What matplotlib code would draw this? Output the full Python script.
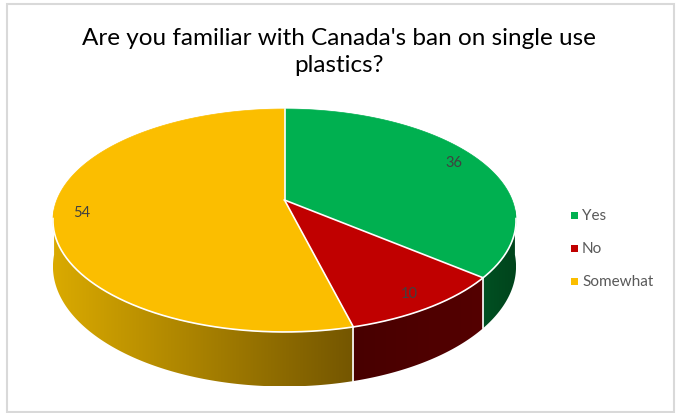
import numpy as np
import matplotlib.pyplot as plt
from matplotlib.patches import Polygon, Rectangle

# survey answers
labels = ['Yes', 'No', 'Somewhat']
values = [36, 10, 54]
top_colors = ['#00B050', '#C00000', '#FBBE00']
# side wall shading, left end -> right end of each slice
side_left = [(0, 80, 34), (72, 0, 0), (218, 170, 0)]
side_right = [(0, 68, 28), (84, 0, 0), (116, 86, 0)]

title = "Are you familiar with Canada's ban on single use\nplastics?"

W, H = 680, 414
fig = plt.figure(figsize=(W / 100, H / 100), dpi=100)
ax = fig.add_axes([0, 0, 1, 1])
ax.axis('off')

# perspective projection of the unit disc (angles clockwise from 12 o'clock)
cx, cy = 284.5, 201.0
A, B, C, k = 227.6, 107.7, 44.5, 0.1838


def proj(theta, r=1.0, z=0.0):
    t = np.radians(theta)
    u = r * np.sin(t)
    v = r * np.cos(t)
    d = 1 + k * v
    return cx + A * u / d, cy - B * v / d + C * z / d


total = sum(values)
starts = np.cumsum([0] + values[:-1]) / total * 360
ends = np.cumsum(values) / total * 360

# only the front part of the rim wall can be seen
vis_lo, vis_hi = 95.0, 265.0

# side walls with a horizontal gradient
for i in range(len(values)):
    a0, a1 = max(starts[i], vis_lo), min(ends[i], vis_hi)
    if a1 <= a0:
        continue
    ts = np.linspace(a0, a1, 200)
    top = [proj(t) for t in ts]
    bot = [proj(t, z=1) for t in ts[::-1]]
    pts = top + bot
    xs = [p[0] for p in pts]
    ys = [p[1] for p in pts]
    grad = np.linspace(0, 1, 256)[:, None]
    img = (np.array(side_left[i]) * (1 - grad) + np.array(side_right[i]) * grad) / 255
    im = ax.imshow(img[None, :, :], extent=(min(xs), max(xs), max(ys), min(ys)),
                   aspect='auto', interpolation='bilinear', zorder=1)
    clip = Polygon(pts, closed=True, transform=ax.transData, facecolor='none', edgecolor='none')
    ax.add_patch(clip)
    im.set_clip_path(clip)

# top faces
for i in range(len(values)):
    ts = np.linspace(starts[i], ends[i], 200)
    pts = [(cx, cy)] + [proj(t) for t in ts]
    ax.add_patch(Polygon(pts, closed=True, facecolor=top_colors[i],
                         edgecolor=top_colors[i], lw=0.5, zorder=2))

# white borders: front rim, radial cuts, front vertical seams
ts = np.linspace(0, 360, 721)
front = [t for t in ts if np.cos(np.radians(t)) < -k + 0.02]
fx, fy = zip(*[proj(t) for t in front])
ax.plot(fx, fy, color='white', lw=1.2, solid_capstyle='round', zorder=3)
for t in starts:
    px, py = proj(t)
    ax.plot([cx, px], [cy, py], color='white', lw=1.2, zorder=3)
    if np.cos(np.radians(t)) < -k:
        _, pyb = proj(t, z=1)
        ax.plot([px, px], [py, pyb], color='white', lw=1.2, zorder=3)

# value labels
for i in range(len(values)):
    mid = (starts[i] + ends[i]) / 2
    lx, ly = proj(mid, r=0.88)
    ax.text(lx, ly, str(values[i]), ha='center', va='center',
            fontsize=10.5, color='#404040', family='Lato', zorder=4)

# title
ax.text(339, 52, title, ha='center', va='center', fontsize=17.5,
        color='black', family='Lato', linespacing=1.3)

# legend
for i, lab in enumerate(labels):
    ly = 216 + i * 33
    ax.add_patch(Rectangle((571, ly - 3.5), 7, 7, facecolor=top_colors[i], edgecolor='none'))
    ax.text(582, ly, lab, ha='left', va='center', fontsize=11,
            color='#595959', family='Lato')

# chart area frame
ax.add_patch(Rectangle((7, 5), 667, 408, facecolor='none', edgecolor='#D9D9D9', lw=1.5))

ax.set_xlim(0, W)
ax.set_ylim(H, 0)
fig.savefig('out.png', dpi=100)
